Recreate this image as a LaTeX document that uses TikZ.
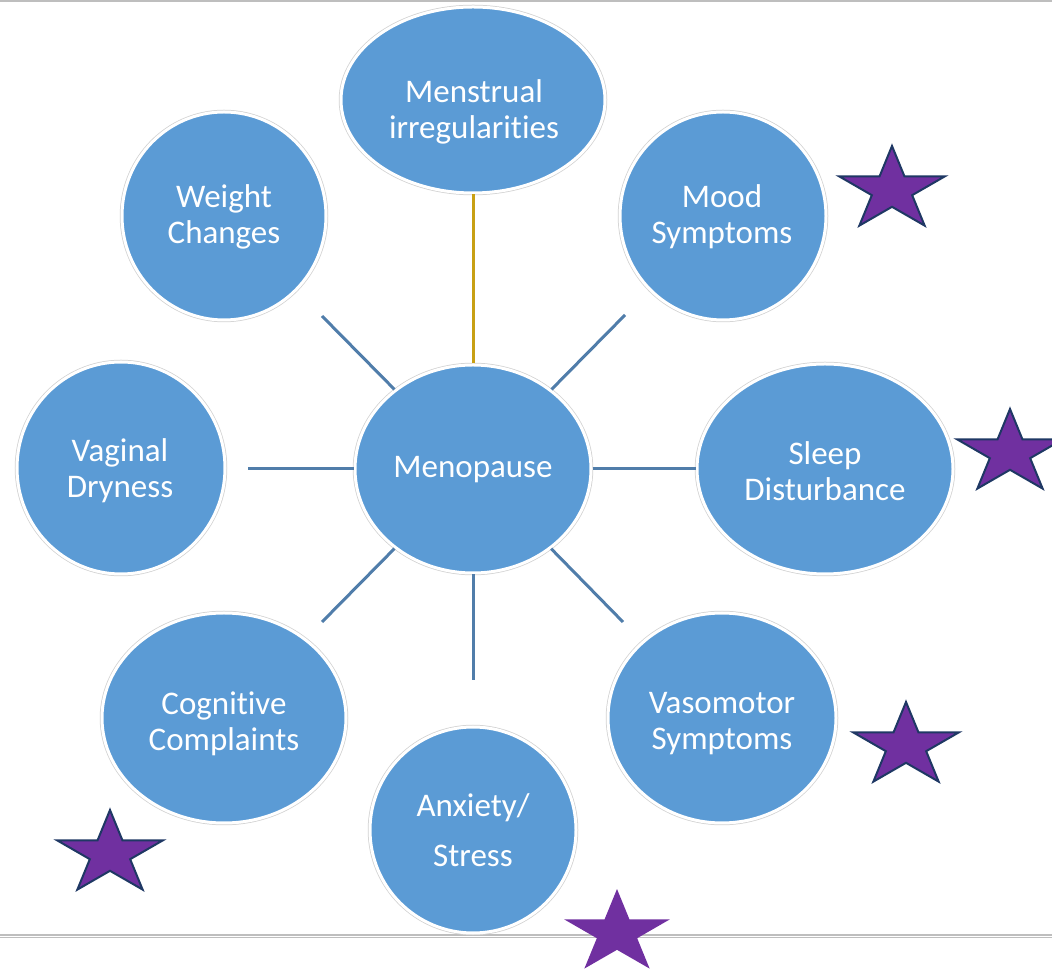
\documentclass[tikz,border=0pt]{standalone}
\usepackage{fontspec}
\setmainfont{Carlito}[Ligatures=NoCommon]
\usetikzlibrary{shapes.geometric}
\definecolor{bubble}{HTML}{5B9BD5}
\definecolor{link}{RGB}{80,125,170}
\definecolor{goldlink}{RGB}{200,160,20}
\definecolor{starfill}{HTML}{7030A0}
\definecolor{starline}{HTML}{1F3864}
\definecolor{rule}{RGB}{190,190,190}
\tikzset{
  bub/.style={ellipse, fill=bubble, draw=white, line width=3pt, inner sep=0pt,
    preaction={draw=black!18, line width=4.5pt}},
  lbl/.style={text=white, align=center, font=\fontsize{33pt}{36pt}\selectfont, inner sep=0pt},
  spoke/.style={draw=link, line width=3pt},
  goldspoke/.style={draw=goldlink, line width=3pt},
  starpic/.pic={\path[pic actions, x=55.5pt, y=44pt] (90:1) -- (126:0.382) -- (162:1) -- (198:0.382) -- (234:1) -- (270:0.382) -- (306:1) -- (342:0.382) -- (18:1) -- (54:0.382) -- cycle;},
  starOL/.style={fill=starfill, draw=starline, line width=2pt, line join=miter},
  starNO/.style={fill=starfill},
}
\begin{document}
\begin{tikzpicture}[x=1pt,y=1pt]
\useasboundingbox (0,0) rectangle (1052,972);
% rules
\draw[rule, line width=1.5pt] (0,971) -- (1052,971);
\draw[rule, line width=1.2pt] (0,37) -- (1052,37);
\draw[rule, line width=1.2pt] (0,34.5) -- (1052,34.5);
% bubbles
\node[bub, minimum width=236pt, minimum height=208pt] (meno) at (473,503) {};
\node[bub, minimum width=264pt, minimum height=186pt] (mens) at (473,872) {};
\node[bub, minimum width=204pt, minimum height=208pt] (weight) at (224,756) {};
\node[bub, minimum width=206pt, minimum height=208pt] (mood) at (723,756) {};
\node[bub, minimum width=208pt, minimum height=212pt] (vag) at (121,504) {};
\node[bub, minimum width=256pt, minimum height=210pt] (sleep) at (825,503) {};
\node[bub, minimum width=244pt, minimum height=210pt] (cog) at (224,254) {};
\node[bub, minimum width=228pt, minimum height=210pt] (vaso) at (722,254) {};
\node[bub, minimum width=206pt, minimum height=206pt] (anx) at (473,142) {};
% free ends
\coordinate (ulEnd) at (322,656);
\coordinate (urEnd) at (625,657);
\coordinate (lEnd) at (248,503);
\coordinate (llEnd) at (322,350);
\coordinate (lrEnd) at (623,350);
\coordinate (bEnd) at (473,292);
% spokes
\draw[goldspoke] (meno) -- (mens);
\draw[spoke] (meno) -- (ulEnd);
\draw[spoke] (meno) -- (urEnd);
\draw[spoke] (meno) -- (lEnd);
\draw[spoke] (meno) -- (sleep);
\draw[spoke] (meno) -- (llEnd);
\draw[spoke] (meno) -- (lrEnd);
\draw[spoke] (meno) -- (bEnd);
% labels
\node[lbl] (menoT) at (473,502) {Menopause};
\node[lbl] (mensT) at (474,860) {Menstrual\\irregularities};
\node[lbl] (weightT) at (224,755) {Weight\\Changes};
\node[lbl] (moodT) at (722,755) {Mood\\Symptoms};
\node[lbl] (vagT) at (120,501) {Vaginal\\Dryness};
\node[lbl] (sleepT) at (825,501) {Sleep\\Disturbance};
\node[lbl] (cogT) at (224,248) {Cognitive\\Complaints};
\node[lbl] (vasoT) at (722,248) {Vasomotor\\Symptoms};
\node[lbl] (anxT) at (473,142) {Anxiety/\\[14pt]Stress};
% stars
\pic[starOL] at (892,782) {starpic};
\pic[starOL] at (1010,519) {starpic};
\pic[starOL] at (906,226) {starpic};
\pic[starOL] at (110,118) {starpic};
\pic[starNO] at (617,39) {starpic};
\end{tikzpicture}
\end{document}
